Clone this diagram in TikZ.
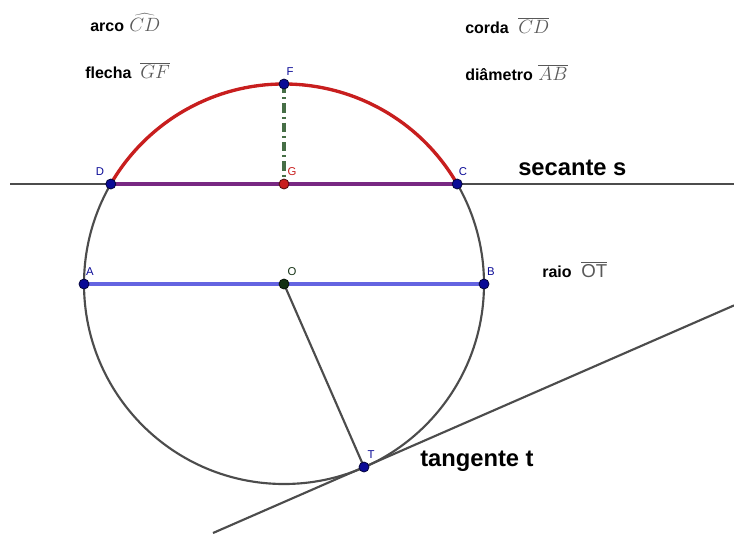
\documentclass[tikz,border=0pt]{standalone}
\usepackage{fontspec}
\setmainfont{Liberation Sans}
\begin{document}
\begin{tikzpicture}[x=0.75pt,y=-0.75pt,
  pt/.style={circle,fill=#1,draw=black!60!#1,line width=0.6pt,inner sep=0pt,minimum size=7.5pt},
  plab/.style={font=\fontsize{8.5}{9}\selectfont,text=#1,inner sep=0pt},
  lbl/.style={font=\fontsize{12}{14}\selectfont\bfseries,anchor=base west,inner sep=0pt},
  mth/.style={text=black!65,anchor=base west,inner sep=0pt,font=\fontsize{15}{17}\selectfont},
  big/.style={font=\fontsize{17.8}{20}\selectfont\bfseries,anchor=base west,inner sep=0pt},
  gline/.style={draw=black!70,line width=1.6pt}]
\useasboundingbox (0,0) rectangle (734,533);
\definecolor{ptblue}{RGB}{10,10,150}
\definecolor{arcred}{RGB}{200,30,30}
\definecolor{chordpurple}{RGB}{120,40,130}
\definecolor{diablue}{RGB}{100,100,225}
\definecolor{flgreen}{RGB}{70,110,70}
\definecolor{ogreen}{RGB}{20,50,20}
% points
\coordinate (O) at (284,284);
\coordinate (A) at (84,284);
\coordinate (B) at (484,284);
\coordinate (C) at (457.2,184);
\coordinate (D) at (110.8,184);
\coordinate (F) at (284,84);
\coordinate (G) at (284,184);
\coordinate (T) at (364,467);
\coordinate (s1) at (10,184);
\coordinate (s2) at (734,184);
\coordinate (t1) at (213,533);
\coordinate (t2) at (734,305.4);
% lines
\draw[gline] (s1) -- (s2);
\draw[gline] (t1) -- (t2);
\draw[gline] (O) circle[radius=200];
\draw[arcred,line width=2.5pt] (C) arc[start angle=-30,end angle=-150,radius=200];
\draw[chordpurple,line width=2.3pt] (D) -- (C);
\draw[diablue,line width=2.3pt] (A) -- (B);
\draw[gline] (O) -- (T);
\draw[flgreen,line width=2.6pt,dash pattern=on 7pt off 3pt on 1.5pt off 3pt] (F) -- (G);
% point marks
\node[pt=ptblue] (nA) at (A) {};
\node[pt=ptblue] (nB) at (B) {};
\node[pt=ptblue] (nC) at (C) {};
\node[pt=ptblue] (nD) at (D) {};
\node[pt=ptblue] (nF) at (F) {};
\node[pt=arcred] (nG) at (G) {};
\node[pt=ogreen] (nO) at (O) {};
\node[pt=ptblue] (nT) at (T) {};
% point labels
\node[plab=ptblue] (lA) at (90,272) {A};
\node[plab=ptblue] (lB) at (491,272) {B};
\node[plab=ptblue] (lC) at (463,172) {C};
\node[plab=ptblue] (lD) at (100,172) {D};
\node[plab=ptblue] (lF) at (290,72) {F};
\node[plab=arcred] (lG) at (292,172) {G};
\node[plab=ogreen] (lO) at (292,272) {O};
\node[plab=ptblue] (lT) at (371,455) {T};
% texts
\node[lbl] (arco) at (90,31) {arco};
\node[mth] (arcom) at (129,31) {$\widehat{CD}$};
\node[lbl] (flecha) at (85,78) {flecha};
\node[mth] (flecham) at (140,78) {$\overline{GF}$};
\node[lbl] (corda) at (465,33) {corda};
\node[mth] (cordam) at (518,33) {$\overline{CD}$};
\node[lbl] (diam) at (465,80) {diâmetro};
\node[mth] (diamm) at (538,80) {$\overline{AB}$};
\node[big] (sec) at (518,175) {secante s};
\node[lbl] (raio) at (542,277) {raio};
\node[anchor=base west,inner sep=0pt,text=black!65,font=\fontsize{14}{16}\selectfont] (raiom) at (581,277) {$\overline{\mbox{OT}}$};
\node[big] (tan) at (420,466) {tangente t};
\end{tikzpicture}
\end{document}
